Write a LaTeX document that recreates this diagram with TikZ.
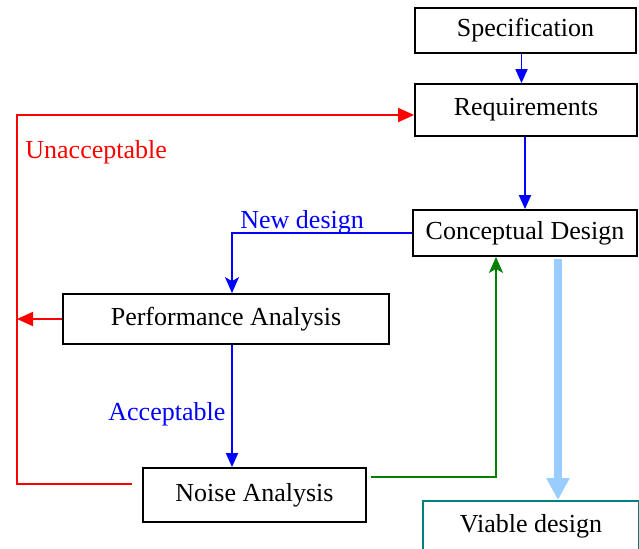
\documentclass[tikz,border=0pt]{standalone}
\usepackage{fontspec}
\setmainfont{Liberation Serif}
\usepackage{tikz}
\usetikzlibrary{arrows.meta}

\definecolor{flowblue}{RGB}{0,0,255}
\definecolor{flowred}{RGB}{255,0,0}
\definecolor{flowgreen}{RGB}{0,128,0}
\definecolor{paleblue}{RGB}{153,204,255}
\definecolor{tealbox}{RGB}{0,128,128}

\tikzset{
  stagebox/.style={draw, line width=0.9pt, inner sep=0pt, font=\fontsize{13}{15}\selectfont},
  flowlabel/.style={anchor=west, inner sep=0pt, font=\fontsize{13}{15}\selectfont},
  blueflow/.style={draw=flowblue, line width=0.9pt, -{Triangle[length=7pt,width=6pt]}},
  redflow/.style={draw=flowred, line width=0.9pt, -{Triangle[length=8pt,width=7pt]}},
}

\begin{document}
\begin{tikzpicture}[x=0.5pt,y=0.5pt,yscale=-1,xscale=1]
    \useasboundingbox (0,0) rectangle (639,548);

    % Boxes
    \node [stagebox, minimum width=110.5pt, minimum height=22.5pt] (spec) at (525.5,30.5) {Specification};
    \node [stagebox, minimum width=111pt, minimum height=26pt] (req) at (526,110) {Requirements};
    \node [stagebox, minimum width=112pt, minimum height=23pt] (concept) at (525,233) {Conceptual Design};
    \node [stagebox, minimum width=163pt, minimum height=25pt] (perf) at (226,319) {Performance Analysis};
    \node [stagebox, minimum width=111.5pt, minimum height=27pt] (noise) at (254.5,495) {Noise Analysis};
    \node [stagebox, draw=tealbox, anchor=north, minimum width=108pt, minimum height=25pt] (viable) at (531,500) {Viable design};

    % Rail on the left
    \coordinate (railtop) at (17,115);

    % Text Node
    \node [flowlabel, text=flowred] (unacc) at (25,152) {Unacceptable};
    % Text Node
    \node [flowlabel, text=flowblue] (newdes) at (240,222) {New design};
    % Text Node
    \node [flowlabel, text=flowblue] (acc) at (108,414) {Acceptable};

    % Main line
    \draw [blueflow] ([xshift=-2pt]spec.south) -- ([xshift=-2pt]spec.south |- req.north);
    \draw [blueflow] ([xshift=-0.5pt]req.south) -- ([xshift=-0.5pt]req.south |- concept.north);
    \draw [blueflow, -{Stealth[length=8pt,width=7pt,inset=2pt]}] (concept.west) -| ([xshift=3pt]perf.north);
    \draw [blueflow] ([xshift=3pt]perf.south) -- ([xshift=3pt]perf.south |- noise.north);

    % Unacceptable loop
    \draw [redflow] (perf.west) -- (perf.west -| railtop);
    \draw [redflow] ([xshift=-5pt,yshift=-5.5pt]noise.west) -| (railtop) -- (railtop -| req.west);

    % Back to concept
    \draw [draw=flowgreen, line width=0.9pt, -{Stealth[length=8pt,width=7pt,inset=2pt]}] ([xshift=2pt,yshift=-9pt]noise.east) -| ([xshift=-14.5pt]concept.south);

    % Result
    \draw [draw=paleblue, line width=4pt, -{Triangle[length=11pt,width=11pt]}] ([xshift=16.5pt,yshift=1pt]concept.south) -- ([xshift=16.5pt]concept.south |- viable.north);

\end{tikzpicture}
\end{document}
